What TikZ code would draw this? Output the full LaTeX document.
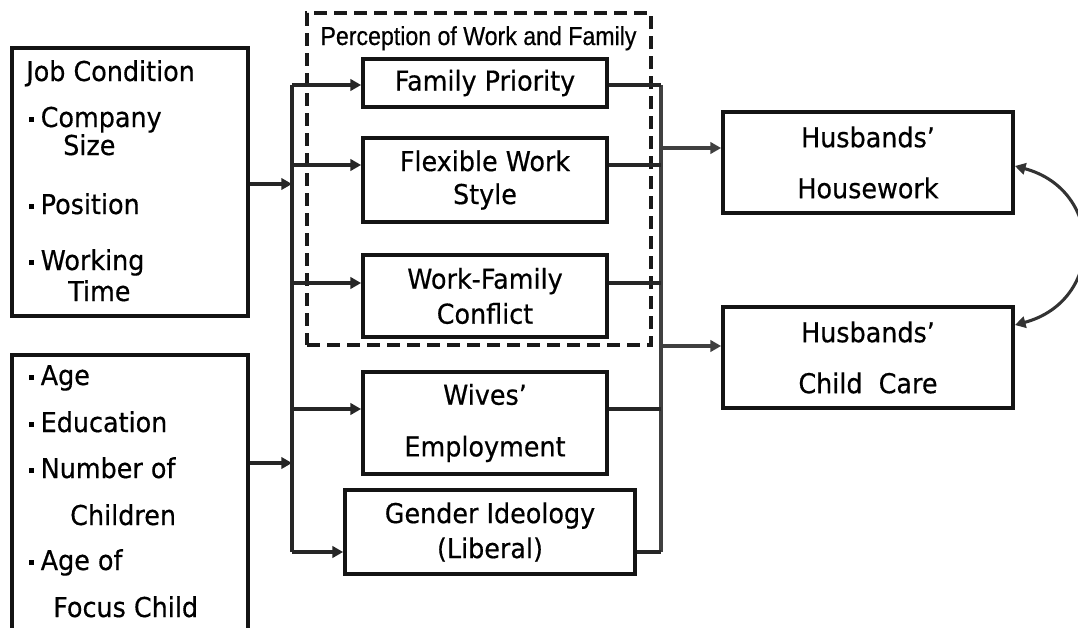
\documentclass[tikz,border=0pt]{standalone}
\usepackage{fontspec}
\setmainfont{DejaVu Sans}[FakeStretch=0.93, FakeBold=0.5]
\newfontfamily\narrowfont{Liberation Sans}[FakeStretch=0.89, FakeBold=0.5]
\usetikzlibrary{
  positioning,
  arrows.meta
}

\newcommand\dotmark{\rule[3.6pt]{3.6pt}{3.6pt}\hspace{5pt}}

\tikzset{
  box/.style = {draw=black!92, line width=2.8pt, align=center, inner sep=0pt,
                font=\fontsize{20.5}{24.75}\selectfont},
  item/.style = {anchor=base west, inner sep=0pt, font=\fontsize{20.5}{24.75}\selectfont},
  link/.style = {draw=black!85, line width=2.3pt},
  tip/.style = {Triangle[length=8pt, width=8.5pt]},
  arr/.style = {link, -{Triangle[length=8pt, width=8.5pt]}},
  dashbox/.style = {draw=black!90, line width=2.8pt, dash pattern=on 10pt off 5pt}
}

\begin{document}
\begin{tikzpicture}[x=0.75pt, y=-0.75pt]
    \clip (0,0) rectangle (1078,628);

    % input boxes
    \node[box, minimum width=177pt, minimum height=201pt] (job) at (130,182) {};
    \node[box, minimum width=177pt, minimum height=243.75pt] (demo) at (130,517.5) {};

    \foreach \tx/\ty/\tt [count=\i] in {26/81/{Job Condition}, 29/127/{\dotmark Company},
        63/155/Size, 29/214/{\dotmark Position}, 29/270/{\dotmark Working}, 68/301/Time}
      \node[item] (job\i) at (\tx,\ty) {\tt};

    \foreach \tx/\ty/\tt [count=\i] in {29/385/{\dotmark Age}, 29/432/{\dotmark Education},
        29/478/{\dotmark Number of}, 70/525/Children, 29/570/{\dotmark Age of}, 53/617/{Focus Child}}
      \node[item] (demo\i) at (\tx,\ty) {\tt};

    % perception group
    \node[dashbox, minimum width=258pt, minimum height=249pt] (percep) at (479,179) {};
    \node[anchor=base, inner sep=0pt, font=\narrowfont\fontsize{19.5}{22}\selectfont] (ptitle) at (478.5,45)
      {Perception of Work and Family};

    % mediators
    \node[box, minimum width=183pt, minimum height=36pt] (fam) at (485,83) {Family Priority};
    \node[box, minimum width=183pt, minimum height=63pt] (flex) at (485,180) {Flexible Work\\Style};
    \node[box, minimum width=183pt, minimum height=61.5pt] (wfc) at (485,296) {Work-Family\\[1.5pt]Conflict};
    \node[box, minimum width=183pt, minimum height=76.5pt] (wives) at (485,423) {Wives’\\[14pt]Employment};
    \node[box, minimum width=217.5pt, minimum height=63pt] (gender) at (490,532) {Gender Ideology\\[1.5pt](Liberal)};

    % outcomes
    \node[box, minimum width=217.5pt, minimum height=75.75pt] (hw) at (868,162.5) {Husbands’\\[13.5pt]Housework};
    \node[box, minimum width=217.5pt, minimum height=75.75pt] (cc) at (868,357.5) {Husbands’\\[13.5pt]Child~~Care};

    % buses
    \coordinate (ltop) at (292,85);
    \coordinate (lbot) at (292,552);
    \coordinate (rtop) at (661,85);
    \coordinate (rbot) at (661,552);
    \draw[link] (ltop) -- (lbot);
    \draw[link, draw=black!75] (rtop) -- (rbot);

    \coordinate (lj) at (292,184);
    \coordinate (ld) at (292,463);
    \draw[arr] (job.east |- lj) -- (lj);
    \draw[arr] (demo.east |- ld) -- (ld);

    \foreach \ty/\n in {85/fam, 165/flex, 283/wfc, 409/wives, 552/gender} {
      \coordinate (l\n) at (292,\ty);
      \coordinate (r\n) at (661,\ty);
      \draw[arr] (l\n) -- (l\n -| \n.west);
      \draw[link] (\n.east |- r\n) -- (r\n);
    }

    \coordinate (rh) at (661,148);
    \coordinate (rc) at (661,346);
    \draw[arr, draw=black!75] (rh) -- (rh -| hw.west);
    \draw[arr, draw=black!75] (rc) -- (rc -| cc.west);

    % correlation
    \coordinate (ch) at (1013,166);
    \coordinate (cb) at (1013,325);
    \draw[link, draw=black!80, {Triangle[length=8pt, width=8.5pt]}-{Triangle[length=8pt, width=8.5pt]}]
      (hw.east |- ch) to[out=-15, in=15, looseness=1.5] (cc.east |- cb);
\end{tikzpicture}
\end{document}
